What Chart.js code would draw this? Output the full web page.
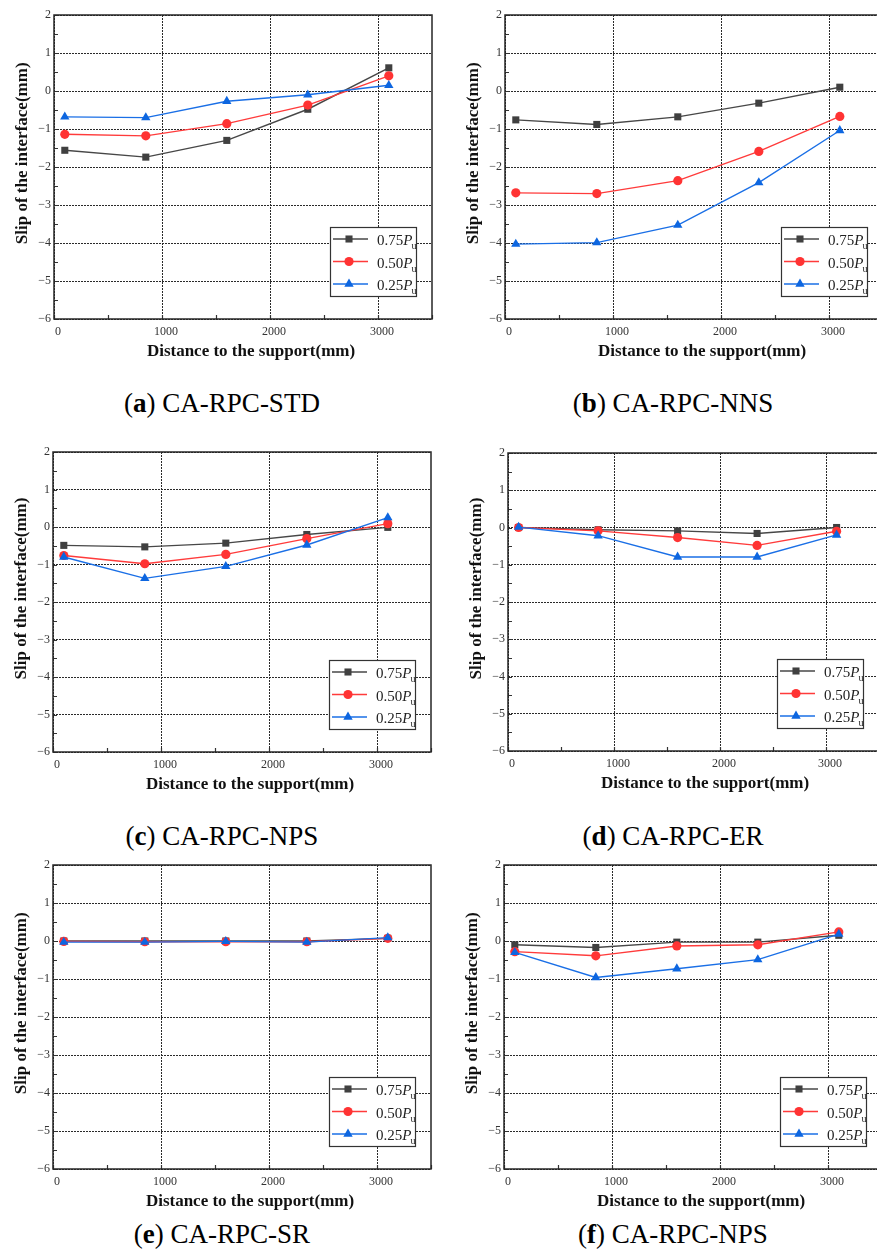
<!DOCTYPE html>
<html>
<head>
<meta charset="utf-8">
<script src="https://cdn.jsdelivr.net/npm/chart.js@4.4.1/dist/chart.umd.min.js"></script>
<style>
  html, body { margin: 0; padding: 0; background: #fff; overflow: hidden; }
  body { width: 877px; height: 1251px; position: relative; }
  .panel { position: absolute; }
  .caption { position: absolute; width: 440px; text-align: center; font: 27px "Liberation Serif", serif; line-height: 27px; color: #000; white-space: nowrap; }
  .caption b { font-weight: bold; }
</style>
</head>
<body>
<script>
// distance of the measuring points to the support (mm)
const distance = [100, 850, 1600, 2350, 3100];
const loadLevels = ['0.75', '0.50', '0.25'];
const xTicks = [0, 1000, 2000, 3000];
const yTicks = [-6, -5, -4, -3, -2, -1, 0, 1, 2];

// slip of the interface (mm) for each specimen and load level
const std75 = [-1.56, -1.74, -1.30, -0.48, 0.61];
const std50 = [-1.14, -1.18, -0.86, -0.37, 0.40];
const std25 = [-0.68, -0.70, -0.27, -0.10, 0.15];

const nns75 = [-0.76, -0.88, -0.68, -0.32, 0.10];
const nns50 = [-2.68, -2.70, -2.36, -1.59, -0.67];
const nns25 = [-4.03, -3.99, -3.53, -2.41, -1.04];

const nps75 = [-0.49, -0.53, -0.43, -0.20, -0.01];
const nps50 = [-0.76, -0.98, -0.73, -0.31, 0.09];
const nps25 = [-0.80, -1.37, -1.05, -0.48, 0.25];

const er75 = [0.00, -0.06, -0.09, -0.16, 0.00];
const er50 = [0.00, -0.09, -0.27, -0.48, -0.10];
const er25 = [0.01, -0.22, -0.79, -0.79, -0.20];

const sr75 = [0.00, 0.00, 0.00, 0.00, 0.07];
const sr50 = [-0.01, -0.02, -0.02, -0.02, 0.07];
const sr25 = [-0.03, -0.03, -0.01, -0.03, 0.09];

const nps2_75 = [-0.10, -0.17, -0.03, -0.03, 0.15];
const nps2_50 = [-0.28, -0.39, -0.13, -0.10, 0.24];
const nps2_25 = [-0.30, -0.96, -0.73, -0.49, 0.18];

const captions = [
  ['a', 'CA-RPC-STD'], ['b', 'CA-RPC-NNS'], ['c', 'CA-RPC-NPS'],
  ['d', 'CA-RPC-ER'], ['e', 'CA-RPC-SR'], ['f', 'CA-RPC-NPS']
];
const seriesByPanel = [
  [std75, std50, std25], [nns75, nns50, nns25], [nps75, nps50, nps25],
  [er75, er50, er25], [sr75, sr50, sr25], [nps2_75, nps2_50, nps2_25]
];

// plot area boxes in page pixels: [left, top, right, bottom], caption baseline
const boxes = [
  { col: 0,   area: [54, 15, 432, 319],    cap: 412 },
  { col: 440, area: [505, 15, 883, 319],   cap: 412 },
  { col: 0,   area: [53, 452, 431, 752],   cap: 845 },
  { col: 440, area: [508, 453, 879, 751],  cap: 845 },
  { col: 0,   area: [53, 865, 431, 1169],  cap: 1243 },
  { col: 440, area: [504, 865, 882, 1169], cap: 1243 }
];

const styles = [
  { line: '#474747', fill: '#404040', point: 'rect', r: 5 },
  { line: '#ff3b3b', fill: '#ff3333', point: 'circle', r: 4.6 },
  { line: '#1a6fe6', fill: '#0d66e0', point: 'triangle', r: 5.4 }
];

const serif = '"Liberation Serif", "Times New Roman", serif';

function minus(v) { return v < 0 ? '\u2212' + Math.abs(v) : String(v); }

const decor = {
  id: 'decor',
  afterDraw(chart) {
    const ctx = chart.ctx;
    const a = chart.chartArea;
    const xs = chart.scales.x, ys = chart.scales.y;
    ctx.save();
    ctx.setLineDash([]);
    // inward minor ticks
    ctx.strokeStyle = '#333';
    ctx.lineWidth = 1.2;
    ctx.beginPath();
    for (let v = -6; v <= 2; v += 0.5) {
      const y = Math.round(ys.getPixelForValue(v)) + 0.5;
      ctx.moveTo(a.left, y); ctx.lineTo(a.left + 4, y);
    }
    for (let v = 0; v <= 3500; v += 500) {
      const x = Math.round(xs.getPixelForValue(v)) + 0.5;
      ctx.moveTo(x, a.bottom); ctx.lineTo(x, a.bottom - 4);
    }
    ctx.stroke();
    // frame
    ctx.lineWidth = 1.5;
    ctx.strokeStyle = '#262626';
    ctx.strokeRect(a.left, a.top, a.right - a.left, a.bottom - a.top);

    // axis titles
    ctx.fillStyle = '#111';
    ctx.font = 'bold 17px ' + serif;
    ctx.textAlign = 'center';
    ctx.textBaseline = 'middle';
    ctx.fillText('Distance to the support(mm)', a.left + 197, a.bottom + 33);
    ctx.save();
    ctx.translate(a.left - 31, a.top + 0.455 * (a.bottom - a.top));
    ctx.rotate(-Math.PI / 2);
    ctx.fillText('Slip of the interface(mm)', 0, 0);
    ctx.restore();

    // legend
    const bw = 86, bh = 69;
    const bx = a.right - 16 - bw, by = a.bottom - 23 - bh;
    ctx.fillStyle = '#fff';
    ctx.fillRect(bx, by, bw, bh);
    ctx.lineWidth = 1.2;
    ctx.strokeStyle = '#333';
    ctx.strokeRect(bx + 0.5, by + 0.5, bw, bh);
    chart.data.datasets.forEach((ds, i) => {
      const st = styles[i];
      const ry = by + 12 + i * 22.5;
      ctx.strokeStyle = st.line;
      ctx.lineWidth = 1.4;
      ctx.beginPath();
      ctx.moveTo(bx + 3, ry); ctx.lineTo(bx + 38, ry);
      ctx.stroke();
      ctx.fillStyle = st.fill;
      Chart.helpers.drawPoint(ctx, { pointStyle: st.point, radius: st.r, borderWidth: 0 }, bx + 19, ry);
      ctx.fillStyle = '#222';
      ctx.textAlign = 'left';
      ctx.textBaseline = 'alphabetic';
      let tx = bx + 47;
      const ty = ry + 6;
      ctx.font = '15px ' + serif;
      ctx.fillText(loadLevels[i], tx, ty);
      tx += ctx.measureText(loadLevels[i]).width;
      ctx.font = 'italic 15px ' + serif;
      ctx.fillText('P', tx, ty);
      tx += ctx.measureText('P').width - 1;
      ctx.font = '10px ' + serif;
      ctx.fillText('u', tx, ty + 4);
    });
    ctx.restore();
  }
};

boxes.forEach((b, p) => {
  const [L, T, R, B] = b.area;
  const cx = b.col, cy = T - 15;
  const cw = R + 8 - cx, ch = B - cy + 50;
  const div = document.createElement('div');
  div.className = 'panel';
  div.style.left = cx + 'px';
  div.style.top = cy + 'px';
  div.style.width = cw + 'px';
  div.style.height = ch + 'px';
  const canvas = document.createElement('canvas');
  div.appendChild(canvas);
  document.body.appendChild(div);

  const cap = document.createElement('div');
  cap.className = 'caption';
  cap.style.left = (b.col === 0 ? 2 : 453) + 'px';
  cap.style.top = (b.cap - 22) + 'px';
  cap.innerHTML = '(<b>' + captions[p][0] + '</b>) ' + captions[p][1];
  document.body.appendChild(cap);

  const datasets = seriesByPanel[p].map((vals, i) => ({
    label: loadLevels[i] + 'Pu',
    data: distance.map((d, k) => ({ x: d, y: vals[k] })),
    borderColor: styles[i].line,
    backgroundColor: styles[i].fill,
    pointBackgroundColor: styles[i].fill,
    pointBorderWidth: 0,
    pointStyle: styles[i].point,
    pointRadius: styles[i].r,
    borderWidth: 1.4,
    tension: 0,
    order: 3 - i
  }));

  new Chart(canvas, {
    type: 'line',
    data: { datasets },
    options: {
      responsive: true,
      maintainAspectRatio: false,
      animation: false,
      events: [],
      layout: { padding: { left: 0, top: 15, right: 8, bottom: 5 } },
      plugins: { legend: { display: false }, tooltip: { enabled: false } },
      scales: {
        x: {
          type: 'linear', min: 0, max: 3500,
          afterFit(s) { s.height = 45; },
          afterBuildTicks(s) { s.ticks = xTicks.map(v => ({ value: v })); },
          ticks: {
            stepSize: 1000, autoSkip: false, maxRotation: 0, padding: 6, labelOffset: 4,
            color: '#333', font: { family: serif, size: 12 },
            callback: v => String(v)
          },
          grid: { color: '#2a2a2a', lineWidth: 1, drawTicks: false },
          border: { display: false, dash: [2, 1] }
        },
        y: {
          type: 'linear', min: -6, max: 2,
          afterFit(s) { s.width = L - cx; },
          afterBuildTicks(s) { s.ticks = yTicks.map(v => ({ value: v })); },
          ticks: {
            stepSize: 1, autoSkip: false, padding: 3,
            color: '#333', font: { family: serif, size: 12 },
            callback: v => minus(v)
          },
          grid: { color: '#2a2a2a', lineWidth: 1, drawTicks: false },
          border: { display: false, dash: [2, 1] }
        }
      }
    },
    plugins: [decor]
  });
});
</script>
</body>
</html>
